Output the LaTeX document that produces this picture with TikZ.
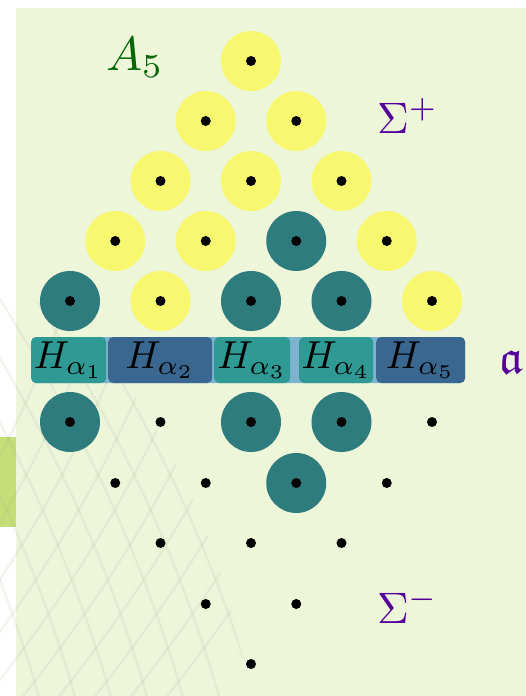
\documentclass[tikz,border=0pt]{standalone}
\usepackage{amsmath,amssymb,graphicx}
\definecolor{Panel}{HTML}{EEF6DA}
\definecolor{Leaf}{HTML}{C6DE78}
\definecolor{Sun}{HTML}{F8F870}
\definecolor{Teal}{HTML}{2F7C7E}
\definecolor{BoxTeal}{HTML}{2F9A93}
\definecolor{BoxBlue}{HTML}{3A6790}
\definecolor{Band}{HTML}{7DB3CE}
\definecolor{Violet}{HTML}{54009C}
\definecolor{Forest}{HTML}{006600}
\definecolor{Mesh}{HTML}{8A9A80}

\begin{document}
\begin{tikzpicture}[x=1pt,y=-1pt,
    root/.style={circle,minimum size=60pt,inner sep=0pt,
      path picture={\fill[black] (path picture bounding box.center) circle (5pt);}},
    deep/.style={root,fill=Teal},
    pale/.style={root,fill=Sun},
    plain/.style={root},
    hbox/.style={rounded corners=5pt,minimum height=46pt,inner sep=0pt,anchor=west},
    big/.style={anchor=base west,inner sep=0pt}]
    \useasboundingbox (0,0) rectangle (526,696);
    \fill[white] (0,0) rectangle (526,696);
    \fill[Panel] (16,8) rectangle (526,696);
    \fill[Leaf] (0,437) rectangle (16,527);
    \begin{scope}
      \clip (0,280) .. controls (120,340) and (210,470) .. (250,696) -- (0,696) -- cycle;
      \foreach \i in {0,...,9}
        \draw[Mesh,line width=2.5pt,opacity=.1] ({\i*36-150},290) .. controls ({\i*36-60},430) and ({\i*36},560) .. ({\i*36+40},700);
      \foreach \i in {0,...,9}
        \draw[Mesh,line width=2.5pt,opacity=.1] ({\i*36-160},700) .. controls ({\i*36-80},600) and ({\i*36},480) .. ({\i*36+60},320);
    \end{scope}

    \fill[Band,rounded corners=5pt] (31,337) rectangle (465,383);
    \node[hbox,fill=BoxTeal,minimum width=75pt] (h1) at (31,360) {\scalebox{3.9}{$H_{\alpha_1}$}};
    \node[hbox,fill=BoxBlue,minimum width=104pt] (h2) at (108,360) {\scalebox{3.9}{$H_{\alpha_2}$}};
    \node[hbox,fill=BoxTeal,minimum width=76pt] (h3) at (214,360) {\scalebox{3.9}{$H_{\alpha_3}$}};
    \node[hbox,fill=BoxTeal,minimum width=74pt] (h4) at (299,360) {\scalebox{3.9}{$H_{\alpha_4}$}};
    \node[hbox,fill=BoxBlue,minimum width=89pt] (h5) at (376,360) {\scalebox{3.9}{$H_{\alpha_5}$}};

    \foreach \r/\y/\list in {1/301/{deep,pale,deep,deep,pale},2/241/{pale,pale,deep,pale},
        3/181/{pale,pale,pale},4/121/{pale,pale},5/61/{pale}}
      \foreach \c [count=\k] in \list
        \node[\c] (pos-\r-\k) at ({70+45.25*(\r-1)+90.5*(\k-1)},\y) {};
    \foreach \r/\y/\list in {1/422/{deep,plain,deep,deep,plain},2/483/{plain,plain,deep,plain},
        3/543/{plain,plain,plain},4/604/{plain,plain},5/664/{plain}}
      \foreach \c [count=\k] in \list
        \node[\c] (neg-\r-\k) at ({70+45.25*(\r-1)+90.5*(\k-1)},\y) {};

    \node[big,text=Forest] (title) at (106,70) {\scalebox{4.8}{$A_5$}};
    \node[big,text=Violet] (sigplus) at (377,133) {\scalebox{4.4}{$\Sigma^+$}};
    \node[big,text=Violet] (sigminus) at (377,623) {\scalebox{4.4}{$\Sigma^-$}};
    \node[big,text=Violet] (cartan) at (499,373) {\scalebox{4.8}{$\mathfrak{a}$}};
  \end{tikzpicture}
\end{document}
